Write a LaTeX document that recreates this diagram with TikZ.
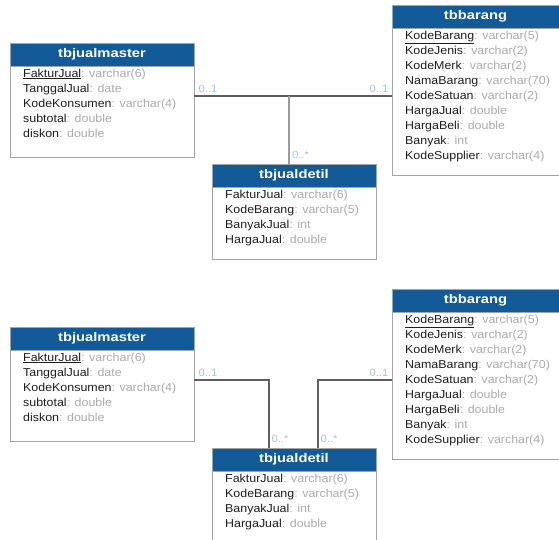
\documentclass[tikz,border=0pt]{standalone}
\usepackage{fontspec}
\setmainfont{Liberation Sans}
\newfontfamily\rowfont{Liberation Sans}[FakeStretch=1.08]
\newfontfamily\hdrfont{Liberation Sans}[FakeStretch=1.18]
\usetikzlibrary{positioning}

\definecolor{tblblue}{HTML}{135B98}
\definecolor{tblborder}{HTML}{A4A4A4}
\definecolor{typegray}{HTML}{ABABAB}
\definecolor{fldblack}{HTML}{1E1E1E}
\definecolor{lblblue}{HTML}{A6C3DF}
\definecolor{relgray}{HTML}{5E5E5E}
\definecolor{relpale}{HTML}{9A9A9A}

\newcommand\ty[1]{\textcolor{typegray}{: #1}}

\begin{document}
\begin{tikzpicture}[x=1pt,y=-1pt,
  tblhead/.style={draw=tblborder, fill=tblblue, text=white, inner sep=0pt, outer sep=0pt,
    minimum height=23pt, anchor=north west, font=\hdrfont\bfseries\fontsize{12.5}{14}\selectfont},
  tblbody/.style={draw=tblborder, fill=white, inner sep=0pt, outer sep=0pt},
  tblrows/.style={align=left, inner sep=0pt, text=fldblack,
    font=\rowfont\fontsize{11.5}{15}\selectfont},
  rel/.style={draw=relgray, line width=1.1pt},
  relpale/.style={draw=relpale, line width=2pt},
  lbl/.style={inner sep=0pt, text=lblblue, font=\rowfont\fontsize{10.5}{12}\selectfont}]
\useasboundingbox (0,0) rectangle (559,539);
\clip (0,0) rectangle (559,539);

% upper diagram
\node[tblhead, minimum width=184pt] (master-head) at (10,43) {tbjualmaster};
\node[tblbody, minimum width=184pt, minimum height=91pt, below=0pt of master-head] (master-body) {};
\node[tblrows, below right=2.5pt and 13pt of master-head.south west] (master-rows)
  {\underline{FakturJual}\ty{varchar(6)}\\ TanggalJual\ty{date}\\ KodeKonsumen\ty{varchar(4)}\\
   subtotal\ty{double}\\ diskon\ty{double}};

\node[tblhead, minimum width=170pt] (barang-head) at (392,5) {\hspace*{-3pt}tbbarang};
\node[tblbody, minimum width=170pt, minimum height=147pt, below=0pt of barang-head] (barang-body) {};
\node[tblrows, below right=2.5pt and 13pt of barang-head.south west] (barang-rows)
  {\underline{KodeBarang}\ty{varchar(5)}\\ KodeJenis\ty{varchar(2)}\\ KodeMerk\ty{varchar(2)}\\
   NamaBarang\ty{varchar(70)}\\ KodeSatuan\ty{varchar(2)}\\ HargaJual\ty{double}\\
   HargaBeli\ty{double}\\ Banyak\ty{int}\\ KodeSupplier\ty{varchar(4)}};

\node[tblhead, minimum width=164pt] (detil-head) at (212,164) {tbjualdetil};
\node[tblbody, minimum width=164pt, minimum height=72pt, below=0pt of detil-head] (detil-body) {};
\node[tblrows, below right=2.5pt and 13pt of detil-head.south west] (detil-rows)
  {FakturJual\ty{varchar(6)}\\ KodeBarang\ty{varchar(5)}\\ BanyakJual\ty{int}\\ HargaJual\ty{double}};

\coordinate (tj) at (289,96);
\draw[rel] (master-body.east |- tj)
  node[lbl, anchor=base west, xshift=4pt, yshift=4pt] {0..1}
  -- (barang-body.west |- tj)
  node[lbl, anchor=base east, xshift=-3pt, yshift=4pt] {0..1};
\draw[relpale] (tj) -- (tj |- detil-head.north)
  node[lbl, anchor=base west, xshift=2pt, yshift=6pt] {0..*};

% lower diagram
\node[tblhead, minimum width=184pt] (master2-head) at (10,327) {tbjualmaster};
\node[tblbody, minimum width=184pt, minimum height=91pt, below=0pt of master2-head] (master2-body) {};
\node[tblrows, below right=2.5pt and 13pt of master2-head.south west] (master2-rows)
  {\underline{FakturJual}\ty{varchar(6)}\\ TanggalJual\ty{date}\\ KodeKonsumen\ty{varchar(4)}\\
   subtotal\ty{double}\\ diskon\ty{double}};

\node[tblhead, minimum width=170pt] (barang2-head) at (392,289) {\hspace*{-3pt}tbbarang};
\node[tblbody, minimum width=170pt, minimum height=147pt, below=0pt of barang2-head] (barang2-body) {};
\node[tblrows, below right=2.5pt and 13pt of barang2-head.south west] (barang2-rows)
  {\underline{KodeBarang}\ty{varchar(5)}\\ KodeJenis\ty{varchar(2)}\\ KodeMerk\ty{varchar(2)}\\
   NamaBarang\ty{varchar(70)}\\ KodeSatuan\ty{varchar(2)}\\ HargaJual\ty{double}\\
   HargaBeli\ty{double}\\ Banyak\ty{int}\\ KodeSupplier\ty{varchar(4)}};

\node[tblhead, minimum width=164pt] (detil2-head) at (212,448) {tbjualdetil};
\node[tblbody, minimum width=164pt, minimum height=95pt, below=0pt of detil2-head] (detil2-body) {};
\node[tblrows, below right=2.5pt and 13pt of detil2-head.south west] (detil2-rows)
  {FakturJual\ty{varchar(6)}\\ KodeBarang\ty{varchar(5)}\\ BanyakJual\ty{int}\\ HargaJual\ty{double}};

\coordinate (bj1) at (269,380);
\coordinate (bj2) at (318,380);
\draw[rel] (master2-body.east |- bj1)
  node[lbl, anchor=base west, xshift=4pt, yshift=4pt] {0..1}
  -| (bj1 |- detil2-head.north)
  node[lbl, anchor=base west, xshift=2pt, yshift=6pt] {0..*};
\draw[rel] (barang2-body.west |- bj2)
  node[lbl, anchor=base east, xshift=-3pt, yshift=4pt] {0..1}
  -| (bj2 |- detil2-head.north)
  node[lbl, anchor=base west, xshift=2pt, yshift=6pt] {0..*};
\end{tikzpicture}
\end{document}
